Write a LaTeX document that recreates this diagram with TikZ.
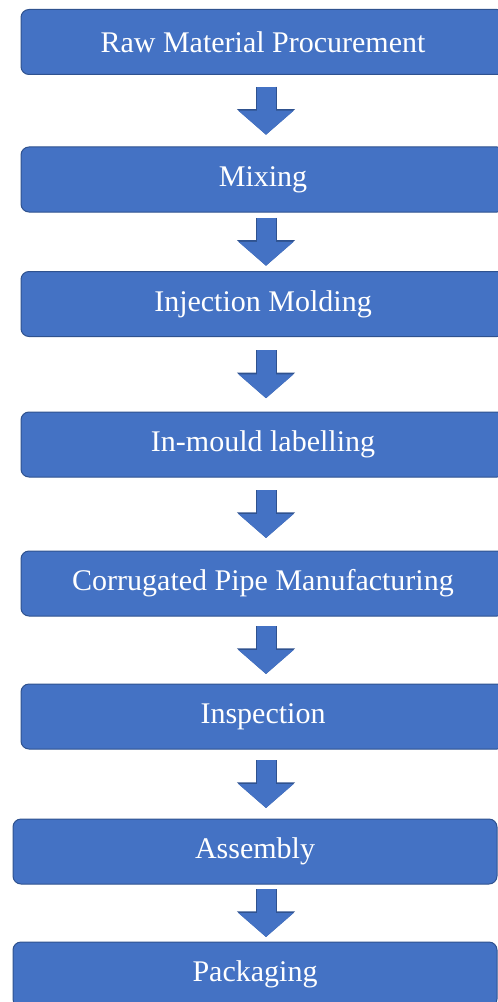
\documentclass[tikz,border=0pt]{standalone}
\usepackage{fontspec}
\setmainfont{Liberation Serif}
\usetikzlibrary{arrows.meta,calc}
\definecolor{stepblue}{HTML}{4472C4}
\definecolor{stepedge}{HTML}{2F528F}

\begin{document}
\begin{tikzpicture}[
x=0.75pt,y=-0.75pt,
box/.style={draw=stepedge,line width=0.75pt,rounded corners=6pt,fill=stepblue,text=white,minimum width=363pt,minimum height=48.75pt,inner sep=0pt,font=\fontsize{22.5}{27}\selectfont},
arr/.style={draw=stepblue,line width=14.25pt,-{Triangle[length=18pt,width=40.5pt]},
  preaction={draw=stepedge,line width=15.75pt,-{Triangle[length=19.2pt,width=42.5pt]}}},
flow/.style={to path={let \p1=($(\tikztostart.south)!0.5!(\tikztotarget.north)$),\p2=(spine) in (\x2,\y1+18pt) -- (\x2,\y1-18pt)}}
]
\useasboundingbox (0,0) rectangle (498,1002);
\coordinate (spine) at (266,0);
% process steps, top to bottom
\node[box] (raw) at (263,42) {Raw Material Procurement};
\node[box] (mix) at (263,179.5) {Mixing};
\node[box] (inj) at (263,304) {Injection Molding};
\node[box] (iml) at (263,444.5) {In-mould labelling};
\node[box] (cpm) at (263,583.5) {Corrugated Pipe Manufacturing};
\node[box] (insp) at (263,716.5) {Inspection};
\node[box] (asm) at (255,851.5) {Assembly};
\node[box] (pack) at (255,974.5) {Packaging};
% block arrows between the steps
\draw[arr] (raw) to[flow] (mix);
\draw[arr] (mix) to[flow] (inj);
\draw[arr] (inj) to[flow] (iml);
\draw[arr] (iml) to[flow] (cpm);
\draw[arr] (cpm) to[flow] (insp);
\draw[arr] (insp) to[flow] (asm);
\draw[arr] (asm) to[flow] (pack);
\end{tikzpicture}
\end{document}
